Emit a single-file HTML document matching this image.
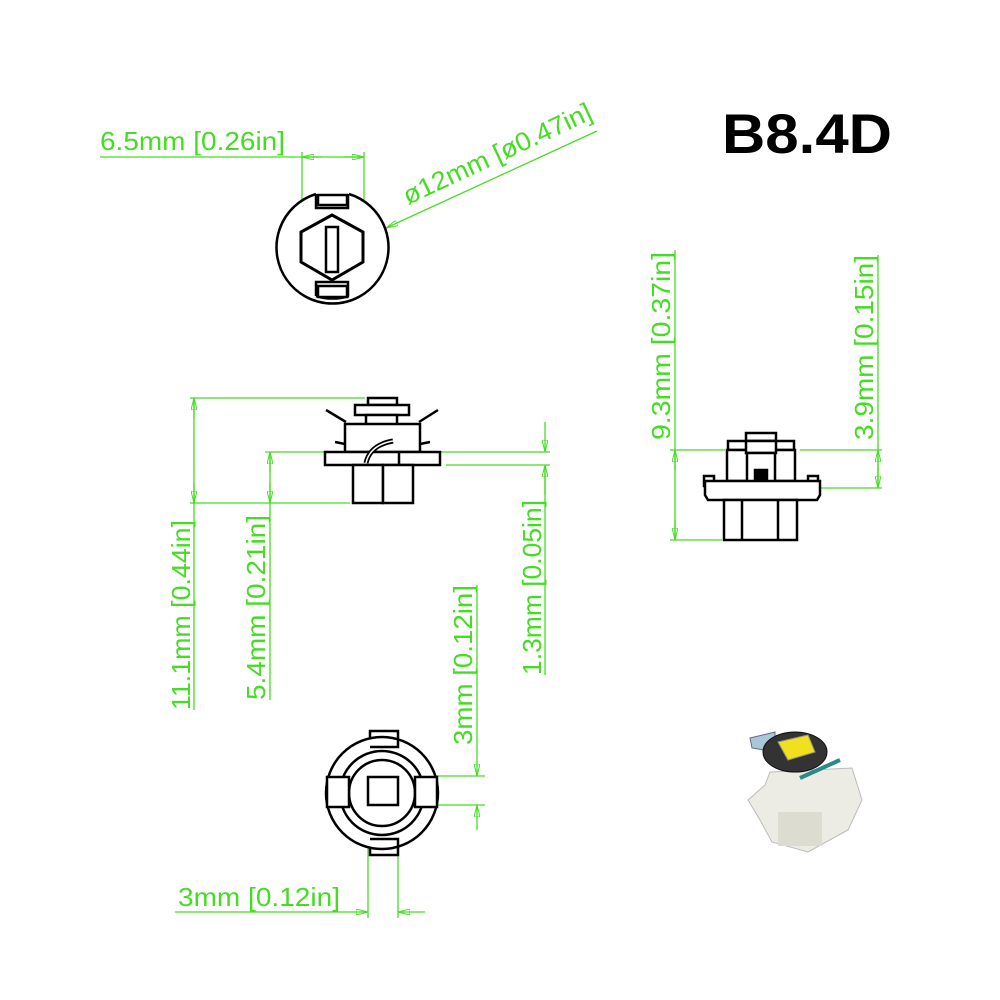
<!DOCTYPE html>
<html><head><meta charset="utf-8"><style>
html,body{margin:0;padding:0;background:#fff;width:1000px;height:1000px;overflow:hidden}
svg text{font-family:"Liberation Sans",sans-serif;}
</style></head><body>
<svg width="1000" height="1000" viewBox="0 0 1000 1000" xmlns="http://www.w3.org/2000/svg">
<defs>
<marker id="a" markerWidth="12" markerHeight="6" refX="12" refY="3" orient="auto-start-reverse" markerUnits="userSpaceOnUse">
<path d="M0,0 L12,3 L0,6 Z" fill="none" stroke="#44dd22" stroke-width="1"/></marker>
</defs>
<g stroke="#44dd22" stroke-width="1.3" fill="none">
<line x1="100" y1="157" x2="364" y2="157"/>
<line x1="302" y1="152" x2="302" y2="228"/>
<line x1="364" y1="152" x2="364" y2="228"/>
<line x1="322" y1="157" x2="302" y2="157" marker-end="url(#a)"/>
<line x1="344" y1="157" x2="364" y2="157" marker-end="url(#a)"/>
<line x1="597" y1="131" x2="386" y2="228" marker-end="url(#a)"/>
<line x1="190" y1="398" x2="365" y2="398"/>
<line x1="190" y1="503" x2="350" y2="503"/>
<line x1="194" y1="398" x2="194" y2="710"/>
<line x1="194" y1="418" x2="194" y2="398" marker-end="url(#a)"/>
<line x1="194" y1="483" x2="194" y2="503" marker-end="url(#a)"/>
<line x1="265" y1="452" x2="325" y2="452"/>
<line x1="270" y1="452" x2="270" y2="700"/>
<line x1="270" y1="472" x2="270" y2="452" marker-end="url(#a)"/>
<line x1="270" y1="483" x2="270" y2="503" marker-end="url(#a)"/>
<line x1="440" y1="452" x2="550" y2="452"/>
<line x1="446" y1="465" x2="550" y2="465"/>
<line x1="545" y1="422" x2="545" y2="452" marker-end="url(#a)"/>
<line x1="545" y1="495" x2="545" y2="465" marker-end="url(#a)"/>
<line x1="545" y1="465" x2="545" y2="675"/>
<line x1="670" y1="450" x2="725" y2="450"/>
<line x1="670" y1="540" x2="722" y2="540"/>
<line x1="675" y1="250" x2="675" y2="540"/>
<line x1="675" y1="470" x2="675" y2="450" marker-end="url(#a)"/>
<line x1="675" y1="520" x2="675" y2="540" marker-end="url(#a)"/>
<line x1="800" y1="450" x2="882" y2="450"/>
<line x1="820" y1="488" x2="882" y2="488"/>
<line x1="878" y1="255" x2="878" y2="488"/>
<line x1="878" y1="470" x2="878" y2="450" marker-end="url(#a)"/>
<line x1="878" y1="468" x2="878" y2="488" marker-end="url(#a)"/>
<line x1="400" y1="776" x2="485" y2="776"/>
<line x1="400" y1="805" x2="485" y2="805"/>
<line x1="477" y1="585" x2="477" y2="776" marker-end="url(#a)"/>
<line x1="477" y1="830" x2="477" y2="805" marker-end="url(#a)"/>
<line x1="368" y1="808" x2="368" y2="918"/>
<line x1="398" y1="808" x2="398" y2="918"/>
<line x1="175" y1="912" x2="368" y2="912" marker-end="url(#a)"/>
<line x1="425" y1="912" x2="398" y2="912" marker-end="url(#a)"/>
</g>
<g fill="#44dd22" font-size="26">
<text x="100" y="150" textLength="185" lengthAdjust="spacingAndGlyphs">6.5mm [0.26in]</text>
<text transform="translate(408,205) rotate(-25)" textLength="205" lengthAdjust="spacingAndGlyphs">ø12mm [ø0.47in]</text>
<text transform="translate(190,710) rotate(-90)" textLength="190" lengthAdjust="spacingAndGlyphs">11.1mm [0.44in]</text>
<text transform="translate(265,700) rotate(-90)" textLength="185" lengthAdjust="spacingAndGlyphs">5.4mm [0.21in]</text>
<text transform="translate(541,675) rotate(-90)" textLength="175" lengthAdjust="spacingAndGlyphs">1.3mm [0.05in]</text>
<text transform="translate(472,745) rotate(-90)" textLength="160" lengthAdjust="spacingAndGlyphs">3mm [0.12in]</text>
<text transform="translate(670,440) rotate(-90)" textLength="188" lengthAdjust="spacingAndGlyphs">9.3mm [0.37in]</text>
<text transform="translate(873,440) rotate(-90)" textLength="185" lengthAdjust="spacingAndGlyphs">3.9mm [0.15in]</text>
<text x="178" y="906" textLength="162" lengthAdjust="spacingAndGlyphs">3mm [0.12in]</text>
</g>
<text x="722" y="153" font-size="56" font-weight="bold" fill="#000" textLength="170" lengthAdjust="spacingAndGlyphs">B8.4D</text>

<g stroke="#000" stroke-width="2.5" fill="#fff">
<path d="M 316 194 A 56 56 0 1 0 349 194" />
<path d="M 316 194 L316 208 L 348 208 L348 194"/>
<rect x="318" y="195" width="29" height="10"/>
<path d="M 316 296 A 56 56 0 0 0 349 296" fill="none"/>
<path d="M316 296 L316 282 L348 282 L348 296"/>
<rect x="318" y="286" width="29" height="11"/>
<polygon points="332,215 363,232 363,262 332,280 301,262 301,232" stroke-width="3"/>
<rect x="326" y="227" width="12" height="45"/>
<rect x="368" y="398" width="29" height="7"/>
<rect x="355" y="405" width="54" height="10"/>
<rect x="366" y="415" width="31" height="10"/>
<rect x="345" y="424" width="75" height="28"/>
<line x1="326" y1="410" x2="346" y2="422"/>
<line x1="438" y1="410" x2="419" y2="422"/>
<line x1="335" y1="442" x2="345" y2="444"/>
<line x1="430" y1="442" x2="420" y2="444"/>
<rect x="325" y="452" width="115" height="13"/>
<rect x="353" y="465" width="30" height="38"/>
<rect x="383" y="465" width="30" height="38"/>
<line x1="399" y1="452" x2="399" y2="465"/>
<path d="M366 463 Q 370 445 393 441" fill="none" stroke-width="5"/>
<path d="M366 463 Q 370 445 393 441" fill="none" stroke="#fff" stroke-width="1.5"/>
<rect x="746" y="433" width="30" height="8"/>
<rect x="728" y="441" width="66" height="9"/>
<rect x="727" y="450" width="68" height="31"/>
<rect x="746" y="441" width="30" height="12"/>
<rect x="747" y="453" width="28" height="36"/>
<rect x="755" y="470" width="12" height="16" fill="#000"/>
<rect x="704" y="476" width="10" height="10"/>
<rect x="808" y="476" width="10" height="10"/>
<path d="M705 481 L820 481 L820 495 L817 500 L708 500 L705 495 Z"/>
<rect x="724" y="500" width="73" height="40"/>
<line x1="742" y1="500" x2="742" y2="540"/>
<line x1="778" y1="500" x2="778" y2="540"/>
<circle cx="382" cy="793" r="56"/>
<circle cx="382" cy="793" r="42" fill="none"/>
<circle cx="382" cy="793" r="33" fill="none"/>
<rect x="327" y="777" width="22" height="30"/>
<rect x="415" y="777" width="22" height="30"/>
<rect x="368" y="777" width="30" height="28"/>
<path d="M370 738 L370 731 L398 731 L398 747 L370 747" fill="none"/>
<path d="M370 848 L370 855 L398 855 L398 839 L370 839" fill="none"/>
</g>
<g>
<path d="M748 800 L765 785 L770 772 L852 768 L862 800 L848 830 L808 852 L772 842 L760 820 Z" fill="#ececE4" stroke="#bbb"/>
<rect x="778" y="812" width="44" height="34" fill="#dcdcd0"/>
<path d="M750 738 L775 732 L775 752 L752 748 Z" fill="#a8c8d8" stroke="#668"/>
<ellipse cx="795" cy="752" rx="32" ry="20" fill="#333" stroke="#111"/>
<polygon points="778,742 808,735 815,752 788,760" fill="#f0e020" stroke="#997"/>
<line x1="800" y1="778" x2="840" y2="760" stroke="#2a8a8a" stroke-width="4"/>
</g>
</svg>
</body></html>
